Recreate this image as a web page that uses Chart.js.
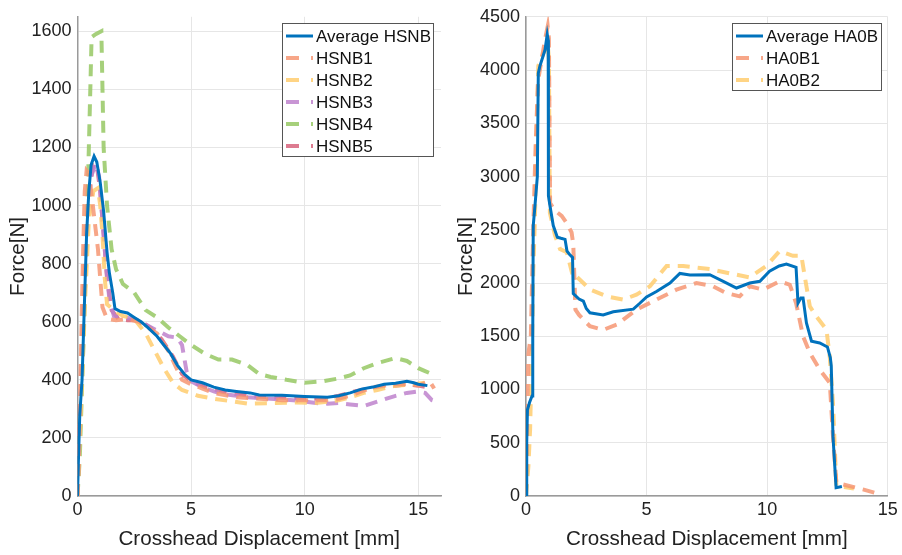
<!DOCTYPE html>
<html>
<head>
<meta charset="utf-8">
<script src="https://cdn.jsdelivr.net/npm/chart.js@4.4.1/dist/chart.umd.min.js"></script>
<style>
  html, body { margin: 0; padding: 0; background: #fff; }
  #wrap { position: relative; width: 902px; height: 555px; }
  .box { position: absolute; top: 0; width: 451px; height: 555px; }
</style>
</head>
<body>
<div id="wrap">
  <div class="box" style="left:0"><canvas id="left"></canvas></div>
  <div class="box" style="left:451px"><canvas id="right"></canvas></div>
</div>
<script>
// ---- left panel: HSNB ----
const hsnbAvg = [[0,0],[0.05,150],[0.1,280],[0.2,400],[0.3,650],[0.4,900],[0.5,1050],[0.6,1140],[0.73,1170],[0.85,1150],[1.0,1080],[1.15,980],[1.3,840],[1.4,770],[1.55,700],[1.65,645],[1.9,635],[2.2,630],[2.5,615],[2.8,600],[3.1,580],[3.5,550],[3.8,520],[4.1,490],[4.4,450],[4.7,420],[5.0,400],[5.5,390],[6.0,375],[6.5,365],[7.0,360],[7.6,355],[8.0,348],[9.0,347],[10.0,343],[11.0,340],[11.5,345],[12.0,355],[12.5,368],[13.0,375],[13.5,385],[14.0,388],[14.5,395],[14.8,390],[15.0,385],[15.4,380]];
const hsnb1 = [[0,0],[0.05,100],[0.1,300],[0.18,600],[0.25,850],[0.32,1050],[0.4,1120],[0.5,1110],[0.6,1050],[0.75,950],[0.9,850],[1.0,750],[1.1,650],[1.3,610],[1.7,605],[2.2,610],[2.7,600],[3.0,585],[3.5,560],[4.0,500],[4.3,450],[4.6,400],[5.0,385],[5.5,370],[6.0,355],[7.0,340],[8.0,335],[9.0,330],[10.0,330],[11.0,330],[11.5,335],[12.0,345],[12.5,360],[13.0,375],[13.5,380],[14.0,385],[14.5,385],[15.0,380],[15.5,395],[15.7,370]];
const hsnb2 = [[0,0],[0.1,200],[0.2,400],[0.35,700],[0.5,950],[0.7,1050],[0.9,1060],[1.0,1000],[1.1,900],[1.2,750],[1.3,660],[1.6,640],[2.0,620],[2.5,610],[3.0,560],[3.4,500],[3.8,440],[4.2,390],[4.6,365],[5.3,345],[6.0,335],[6.8,326],[7.5,318],[8.5,320],[9.5,322],[10.5,320],[11.5,330],[12.0,340],[12.6,355],[13.2,365],[14.0,380],[14.8,385],[15.3,390],[15.6,395]];
const hsnb3 = [[0,0],[0.1,250],[0.25,600],[0.4,900],[0.6,1100],[0.8,1145],[0.95,1100],[1.1,950],[1.25,800],[1.4,680],[1.6,620],[2.0,615],[2.5,610],[3.0,590],[3.5,570],[4.0,550],[4.4,545],[4.6,520],[4.8,430],[5.0,395],[5.5,375],[6.0,360],[6.5,350],[7.5,340],[8.5,335],[9.5,330],[10.5,320],[11.0,318],[11.5,320],[12.0,315],[12.6,310],[13.2,325],[14.0,345],[14.5,355],[15.0,360],[15.3,355],[15.6,330],[15.8,325]];
const hsnb4 = [[0,0],[0.1,130],[0.25,500],[0.4,900],[0.5,1200],[0.58,1450],[0.62,1580],[0.8,1590],[1.05,1600],[1.1,1400],[1.15,1200],[1.3,1000],[1.5,850],[1.7,780],[2.0,730],[2.5,700],[3.0,640],[3.5,615],[4.0,580],[4.5,550],[5.0,520],[5.6,490],[6.2,470],[6.8,470],[7.5,450],[8.0,420],[8.5,410],[9.2,400],[10.0,390],[10.8,395],[11.5,405],[12.0,415],[12.6,440],[13.3,460],[14.0,475],[14.5,465],[15.0,440],[15.3,430],[15.6,420]];
const hsnb5 = [[0,0],[0.1,220],[0.2,500],[0.35,850],[0.5,1050],[0.7,1140],[0.85,1140],[1.0,1050],[1.15,900],[1.3,750],[1.5,640],[1.8,610],[2.2,605],[2.7,605],[3.2,580],[3.7,540],[4.2,480],[4.6,420],[5.0,395],[5.6,375],[6.3,360],[7.0,350],[8.0,342],[9.0,338],[10.0,335],[10.8,335],[11.5,345],[12.2,360],[12.8,370],[13.5,378],[14.0,380],[14.5,385],[15.0,380],[15.4,375]];
const hsnbNames = ['Average HSNB','HSNB1','HSNB2','HSNB3','HSNB4','HSNB5'];
const hsnbXTicks = [0, 5, 10, 15];
const hsnbYTicks = [0, 200, 400, 600, 800, 1000, 1200, 1400, 1600];

// ---- right panel: HA0B ----
const ha0bAvg = [[0,0],[0.03,500],[0.06,810],[0.15,880],[0.25,940],[0.28,1500],[0.3,2540],[0.37,2720],[0.47,3000],[0.51,3970],[0.58,4040],[0.79,4190],[0.88,4335],[0.92,4280],[0.93,2820],[0.99,2730],[1.13,2540],[1.3,2430],[1.45,2420],[1.62,2410],[1.7,2300],[1.8,2270],[1.93,2240],[1.96,1900],[2.2,1850],[2.38,1830],[2.5,1760],[2.65,1720],[3.2,1700],[3.62,1730],[4.45,1755],[4.72,1810],[5.0,1870],[5.41,1920],[5.97,2000],[6.38,2090],[6.8,2075],[7.62,2078],[8.18,2016],[8.73,1953],[9.28,2000],[9.7,2016],[10.1,2110],[10.5,2160],[10.8,2178],[11.2,2147],[11.28,1812],[11.4,1860],[11.49,1860],[11.63,1625],[11.84,1453],[12.18,1437],[12.5,1400],[12.62,1300],[12.66,1219],[12.73,562],[12.86,78],[13.1,90]];
const ha0b1 = [[0,0],[0.05,800],[0.1,1340],[0.2,1500],[0.3,2500],[0.4,3300],[0.5,3900],[0.65,4100],[0.8,4300],[0.9,4410],[0.95,4300],[1.0,2750],[1.2,2680],[1.48,2630],[1.7,2560],[1.89,2475],[1.96,2366],[2.05,1750],[2.2,1700],[2.65,1594],[3.2,1560],[3.76,1609],[4.58,1750],[5.41,1844],[6.24,1938],[7.07,2000],[7.76,1969],[8.3,1906],[8.86,1875],[9.28,1969],[9.83,1938],[10.52,2016],[10.94,1984],[11.2,1812],[11.49,1500],[11.77,1344],[12.18,1187],[12.6,1062],[12.73,562],[12.87,125],[13.4,94],[13.97,62],[14.46,31]];
const ha0b2 = [[0,0],[0.1,280],[0.17,625],[0.25,1400],[0.3,2100],[0.37,2600],[0.45,3500],[0.51,4040],[0.7,4150],[0.9,4250],[0.95,4100],[0.99,2660],[1.2,2450],[1.41,2320],[1.69,2290],[1.96,2050],[2.1,2060],[2.65,1940],[3.34,1875],[4.03,1844],[4.58,1891],[5.14,1969],[5.83,2160],[6.52,2160],[7.62,2131],[8.59,2084],[9.28,2053],[9.97,2162],[10.52,2300],[11.07,2256],[11.42,2256],[11.56,2062],[11.77,1781],[12.04,1687],[12.46,1562],[12.6,1300],[12.73,875],[12.87,94],[13.4,78],[13.6,70]];
const ha0bNames = ['Average HA0B','HA0B1','HA0B2'];
const ha0bXTicks = [0, 5, 10, 15];
const ha0bYTicks = [0, 500, 1000, 1500, 2000, 2500, 3000, 3500, 4000, 4500];

const xTitle = 'Crosshead Displacement [mm]';
const yTitle = 'Force[N]';

const BLUE = '#0072BD';
const dashColors = ['rgba(246,150,115,0.85)','rgba(255,205,110,0.85)','rgba(190,130,205,0.85)','rgba(150,200,100,0.85)','rgba(215,100,125,0.85)'];
const FONT = 'Arial, "Liberation Sans", Helvetica, sans-serif';

const pts = arr => arr.map(p => ({ x: p[0], y: p[1] }));

function makeSets(avg, runs, names) {
  const sets = [{
    label: names[0], data: pts(avg), borderColor: BLUE, borderWidth: 3,
    pointRadius: 0, tension: 0, fill: false
  }];
  runs.forEach((r, i) => sets.push({
    label: names[i + 1], data: pts(r), borderColor: dashColors[i], borderWidth: 4,
    borderDash: [12, 8], pointRadius: 0, tension: 0, fill: false
  }));
  return sets;
}

// legend drawn inside the plot, top-right, matlab style
const boxLegend = {
  id: 'boxLegend',
  afterDraw(chart, args, opts) {
    const ctx = chart.ctx;
    const sets = chart.data.datasets;
    const { x, y, w } = opts;
    const rowH = 22;
    const h = sets.length * rowH + 1;
    ctx.save();
    ctx.fillStyle = '#fff';
    ctx.fillRect(x, y, w, h);
    ctx.strokeStyle = '#555';
    ctx.lineWidth = 1;
    ctx.strokeRect(x + 0.5, y + 0.5, w, h);
    ctx.font = '17px ' + FONT;
    ctx.textBaseline = 'middle';
    sets.forEach((ds, i) => {
      const cy = y + 13 + i * rowH;
      ctx.beginPath();
      ctx.strokeStyle = ds.borderColor;
      ctx.lineWidth = ds.borderWidth;
      ctx.setLineDash(ds.borderDash ? [13, 12] : []);
      ctx.moveTo(x + 4, cy);
      ctx.lineTo(x + 31, cy);
      ctx.stroke();
      ctx.setLineDash([]);
      ctx.fillStyle = '#111';
      ctx.fillText(ds.label, x + 34, cy + 1);
    });
    ctx.restore();
  }
};

function makeChart(id, sets, xmax, ymax, xTicks, yTicks, yWidth, padRight, titlePad, legendPos) {
  return new Chart(document.getElementById(id), {
    type: 'line',
    data: { datasets: sets },
    options: {
      responsive: true,
      maintainAspectRatio: false,
      animation: false,
      layout: { padding: { top: 16, right: padRight, left: 0, bottom: 0 } },
      plugins: { legend: { display: false }, tooltip: { enabled: false }, boxLegend: legendPos },
      scales: {
        x: {
          type: 'linear', min: 0, max: xmax,
          ticks: { color: '#222', font: { family: FONT, size: 18 }, padding: 3, maxRotation: 0, autoSkip: false, callback: v => String(v) },
          afterBuildTicks: s => { s.ticks = xTicks.map(v => ({ value: v })); },
          afterFit: s => { s.height = 59; },
          grid: { color: '#e6e6e6', drawTicks: false },
          border: { color: '#9a9a9a', width: 1.5 },
          title: { display: true, text: xTitle, color: '#222', font: { family: FONT, size: 20.6 }, padding: { top: 0, bottom: 3 } }
        },
        y: {
          type: 'linear', min: 0, max: ymax,
          ticks: { color: '#222', font: { family: FONT, size: 18 }, padding: 6, autoSkip: false, callback: v => String(v) },
          afterBuildTicks: s => { s.ticks = yTicks.map(v => ({ value: v })); },
          afterFit: s => { s.width = yWidth; },
          grid: { color: '#e6e6e6', drawTicks: false },
          border: { color: '#9a9a9a', width: 1.5 },
          title: { display: true, text: yTitle, color: '#222', font: { family: FONT, size: 20.6 }, padding: { top: titlePad, bottom: 0 } }
        }
      }
    },
    plugins: [boxLegend]
  });
}

makeChart('left', makeSets(hsnbAvg, [hsnb1, hsnb2, hsnb3, hsnb4, hsnb5], hsnbNames),
  16, 1650, hsnbXTicks, hsnbYTicks, 77.5, 10, 6, { x: 282, y: 23, w: 151 });
makeChart('right', makeSets(ha0bAvg, [ha0b1, ha0b2], ha0bNames),
  15, 4500, ha0bXTicks, ha0bYTicks, 75, 14.3, 3, { x: 281, y: 23, w: 149 });
</script>
</body>
</html>
